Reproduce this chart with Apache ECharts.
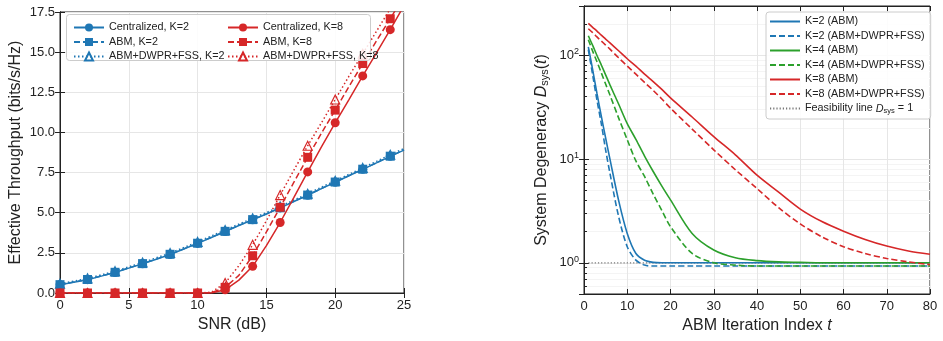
<!DOCTYPE html>
<html>
<head>
<meta charset="utf-8">
<script src="https://cdn.jsdelivr.net/npm/echarts@6/dist/echarts.min.js"></script>
<style>
  html, body { margin: 0; padding: 0; background: #fff; }
  #chart { width: 943px; height: 341px; }
</style>
</head>
<body>
<div id="chart"></div>
<script>
// left panel: throughput vs SNR
const snr = [0,1,2,3,4,5,6,7,8,9,10,11,12,13,14,15,16,17,18,19,20,21,22,23,24,25];
const centK2 = [0.52,0.67,0.83,1.05,1.28,1.55,1.82,2.1,2.40,2.74,3.09,3.46,3.83,4.2,4.56,4.92,5.3,5.7,6.09,6.5,6.90,7.3,7.70,8.1,8.51,8.9];
const abmK2 = [0.52,0.68,0.84,1.06,1.29,1.56,1.83,2.11,2.41,2.75,3.10,3.47,3.84,4.21,4.57,4.93,5.31,5.71,6.10,6.51,6.91,7.31,7.71,8.11,8.52,8.91];
const dwprK2 = [0.58,0.74,0.91,1.13,1.36,1.63,1.90,2.19,2.49,2.83,3.18,3.55,3.92,4.29,4.65,5.01,5.39,5.79,6.18,6.59,6.99,7.39,7.79,8.2,8.61,9.0];
const centK8 = [0,0,0,0,0,0,0,0,0,0,0,0,0.2,0.8,1.66,2.95,4.39,5.95,7.54,9.1,10.6,12.05,13.52,14.95,16.4,17.9];
const abmK8 = [0,0,0,0,0,0,0,0,0,0,0,0.02,0.35,1.1,2.32,3.8,5.34,6.9,8.45,9.95,11.39,12.85,14.29,15.7,17.08,18.5];
const dwprK8 = [0,0,0,0,0,0,0,0,0,0,0,0.05,0.62,1.7,3.0,4.5,6.1,7.65,9.17,10.6,12.05,13.5,14.9,16.3,17.7,19.0];

// right panel: degeneracy vs iteration
const iters = [1,2,3,4,5,6,8,10,12,14,16,18,20,25,30,35,40,45,50,55,60,65,70,75,80];
const degK2abm = [121,73,43,26,16,10,4,1.92,1.23,1.06,1.01,1.0,1.0,1.0,1.0,1.0,1.0,1.0,1.0,1.0,1.0,1.0,1.0,1.0,1.0];
const degK2dwpr = [114,65,37,22,12.3,7.3,2.8,1.43,1.06,0.95,0.93,0.93,0.93,0.93,0.93,0.93,0.93,0.93,0.93,0.93,0.93,0.93,0.93,0.93,0.93];
const degK4abm = [155,125,100,81,65,52,34,22,15.5,10.7,7.6,5.5,4.05,1.92,1.33,1.12,1.05,1.02,1.01,1.0,1.0,1.0,1.0,1.0,1.0];
const degK4dwpr = [142,110,87,68,53,41.5,25,15.4,9.6,6.8,4.6,3.2,2.23,1.23,1.0,0.95,0.93,0.93,0.93,0.93,0.93,0.93,0.93,0.93,0.93];
const degK8abm = [204,187,172,157,144,132,111,93,79,66,56,47,39,25.5,16.5,11,7.0,4.8,3.3,2.5,2.02,1.68,1.45,1.30,1.21];
const degK8dwpr = [181,166,151,138,126,115,95,79,66,55,46,38,31,19.5,12.3,7.9,5.2,3.4,2.37,1.78,1.43,1.23,1.1,1.02,0.96];
const feasX = [1, 80];
const feasY = [1, 1];

const BLUE = "#1f77b4";
const RED = "#d62728";
const GREEN = "#2ca02c";
const FONT = "Liberation Sans";

const pair = (xs, ys) => xs.map((x, i) => [x, ys[i]]);
// markers only every 2 dB, like the original plot
const marked = (xs, ys) =>
  xs.map((x, i) => (x % 2 === 0 && x < 25 ? { value: [x, ys[i]] } : { value: [x, ys[i]], symbol: "none" }));

const dashed = [6, 3];
const dotted = [1.5, 2.5];

function tpSeries(name, ys, color, symbol, dash, z) {
  const hollow = symbol === "triangle";
  return {
    name: name,
    type: "line",
    xAxisIndex: 0,
    yAxisIndex: 0,
    data: marked(snr, ys),
    symbol: symbol,
    symbolSize: hollow ? 9 : 9,
    color: color,
    lineStyle: { width: 1.5, type: dash || "solid", color: color },
    itemStyle: hollow
      ? { color: "rgba(255,255,255,0)", borderColor: color, borderWidth: 1.2 }
      : { color: color, borderWidth: 0 },
    z: z,
  };
}

function degSeries(name, ys, color, dash) {
  return {
    name: name,
    type: "line",
    xAxisIndex: 2,
    yAxisIndex: 2,
    data: pair(iters, ys),
    showSymbol: false,
    symbol: "none",
    smooth: 0.3,
    color: color,
    lineStyle: { width: 1.6, type: dash || "solid", color: color },
    z: 2,
  };
}

const axisLine = { show: true, lineStyle: { color: "#222", width: 1 } };
const tickIn = { show: true, inside: true, length: 5, lineStyle: { color: "#222" } };
const gridLine = { show: true, lineStyle: { color: "#e6e6e6", width: 1 } };
const labelStyle = { color: "#222", fontSize: 13, fontFamily: FONT };
const nameStyle = { color: "#222", fontSize: 16, fontFamily: FONT };
const legendText = { fontSize: 10.8, color: "#222", fontFamily: FONT };

const sup = (v) => {
  const e = Math.round(Math.log10(v));
  return Math.abs(Math.log10(v) - e) < 1e-6 ? "10{sup|" + e + "}" : "";
};

const option = {
  animation: false,
  backgroundColor: "#fff",
  textStyle: { fontFamily: FONT },
  grid: [
    { left: 60, right: 539, top: 12, bottom: 48, show: true, borderColor: "#222", borderWidth: 1 },
    { left: 584, right: 13, top: 6, bottom: 47, show: true, borderColor: "#222", borderWidth: 1 },
  ],
  xAxis: [
    {
      gridIndex: 0, type: "value", min: 0, max: 25, interval: 5,
      name: "SNR (dB)", nameLocation: "middle", nameGap: 24, nameTextStyle: nameStyle,
      axisLine: axisLine, axisTick: tickIn, splitLine: gridLine,
      axisLabel: Object.assign({ margin: 6 }, labelStyle),
    },
    {
      gridIndex: 0, type: "value", position: "top", min: 0, max: 25, interval: 5,
      axisLine: axisLine, axisTick: tickIn, splitLine: { show: false }, axisLabel: { show: false },
    },
    {
      gridIndex: 1, type: "value", min: 0, max: 80, interval: 10,
      name: "ABM Iteration Index {i|t}", nameLocation: "middle", nameGap: 24,
      nameTextStyle: Object.assign({ rich: { i: { fontStyle: "italic", fontSize: 16, fontFamily: FONT, color: "#222" } } }, nameStyle),
      axisLine: axisLine, axisTick: tickIn, splitLine: gridLine,
      axisLabel: Object.assign({ margin: 6 }, labelStyle),
    },
    {
      gridIndex: 1, type: "value", position: "top", min: 0, max: 80, interval: 10,
      axisLine: axisLine, axisTick: tickIn, splitLine: { show: false }, axisLabel: { show: false },
    },
  ],
  yAxis: [
    {
      gridIndex: 0, type: "value", min: 0, max: 17.5, interval: 2.5,
      name: "Effective Throughput (bits/s/Hz)", nameLocation: "middle", nameGap: 36, nameTextStyle: nameStyle,
      axisLine: axisLine, axisTick: tickIn, splitLine: gridLine,
      axisLabel: Object.assign({ margin: 5, formatter: (v) => v.toFixed(1) }, labelStyle),
    },
    {
      gridIndex: 0, type: "value", position: "right", min: 0, max: 17.5, interval: 2.5,
      axisLine: axisLine, axisTick: tickIn, splitLine: { show: false }, axisLabel: { show: false },
    },
    {
      gridIndex: 1, type: "log", logBase: 10, min: 0.5, max: 300,
      name: "System Degeneracy {i|D}{sub|sys}({i|t})", nameLocation: "middle", nameGap: 34,
      nameTextStyle: Object.assign({
        rich: {
          i: { fontStyle: "italic", fontSize: 16, fontFamily: FONT, color: "#222" },
          sub: { fontSize: 11, fontFamily: FONT, color: "#222", verticalAlign: "bottom", padding: [6, 0, 0, 0] },
        },
      }, nameStyle),
      axisLine: axisLine, axisTick: tickIn, splitLine: gridLine,
      minorTick: { show: true, splitNumber: 9, length: 3, lineStyle: { color: "#222" } },
      minorSplitLine: { show: true, lineStyle: { color: "#f4f4f4" } },
      axisLabel: Object.assign({
        margin: 5,
        formatter: sup,
        rich: { sup: { fontSize: 9, fontFamily: FONT, color: "#222", verticalAlign: "top", padding: [0, 0, 7, 0] } },
      }, labelStyle),
    },
    {
      gridIndex: 1, type: "log", logBase: 10, position: "right", min: 0.5, max: 300,
      axisLine: axisLine, axisTick: tickIn, splitLine: { show: false }, axisLabel: { show: false },
    },
  ],
  legend: [
    {
      data: ["Centralized, K=2", "ABM, K=2", "ABM+DWPR+FSS, K=2"],
      orient: "vertical", left: 68, top: 17, itemGap: 3.5, itemWidth: 30, itemHeight: 10,
      textStyle: legendText, z: 6,
    },
    {
      data: ["Centralized, K=8", "ABM, K=8", "ABM+DWPR+FSS, K=8"],
      orient: "vertical", left: 222, top: 17, itemGap: 3.5, itemWidth: 30, itemHeight: 10,
      textStyle: legendText, z: 6,
    },
    {
      data: ["K=2 (ABM)", "K=2 (ABM+DWPR+FSS)", "K=4 (ABM)", "K=4 (ABM+DWPR+FSS)", "K=8 (ABM)", "K=8 (ABM+DWPR+FSS)", "Feasibility"],
      orient: "vertical", left: 766, top: 12, itemGap: 3.5, itemWidth: 30, itemHeight: 10,
      padding: [4, 6, 4, 3],
      backgroundColor: "rgba(255,255,255,0.85)", borderColor: "#cccccc", borderWidth: 1, borderRadius: 3,
      itemStyle: { color: "rgba(0,0,0,0)", borderWidth: 0, opacity: 0 },
      formatter: (n) => (n === "Feasibility" ? "Feasibility line {i|D}{sub|sys} = 1" : n),
      textStyle: Object.assign({
        rich: {
          i: { fontStyle: "italic", fontSize: 10.8, fontFamily: FONT, color: "#222" },
          sub: { fontSize: 7.5, fontFamily: FONT, color: "#222", verticalAlign: "bottom", padding: [5, 0, 0, 0] },
        },
      }, legendText),
      z: 6,
    },
  ],
  graphic: [
    {
      type: "rect", left: 66, top: 14, z: 5,
      shape: { width: 304, height: 46, r: 3 },
      style: { fill: "rgba(255,255,255,0.85)", stroke: "#cccccc", lineWidth: 1 },
    },
  ],
  series: [
    tpSeries("ABM+DWPR+FSS, K=2", dwprK2, BLUE, "triangle", dotted, 2),
    tpSeries("Centralized, K=2", centK2, BLUE, "circle", null, 3),
    tpSeries("ABM, K=2", abmK2, BLUE, "rect", dashed, 3),
    tpSeries("ABM+DWPR+FSS, K=8", dwprK8, RED, "triangle", dotted, 2),
    tpSeries("Centralized, K=8", centK8, RED, "circle", null, 3),
    tpSeries("ABM, K=8", abmK8, RED, "rect", dashed, 3),
    degSeries("K=2 (ABM)", degK2abm, BLUE),
    degSeries("K=2 (ABM+DWPR+FSS)", degK2dwpr, BLUE, dashed),
    degSeries("K=4 (ABM)", degK4abm, GREEN),
    degSeries("K=4 (ABM+DWPR+FSS)", degK4dwpr, GREEN, dashed),
    degSeries("K=8 (ABM)", degK8abm, RED),
    degSeries("K=8 (ABM+DWPR+FSS)", degK8dwpr, RED, dashed),
    {
      name: "Feasibility",
      type: "line",
      xAxisIndex: 2,
      yAxisIndex: 2,
      data: pair(feasX, feasY),
      symbol: "none",
      color: "#777",
      lineStyle: { width: 1.2, type: [1.2, 2], color: "#777" },
      z: 1,
    },
  ],
};

const myChart = echarts.init(document.getElementById("chart"));
myChart.setOption(option);
</script>
</body>
</html>
